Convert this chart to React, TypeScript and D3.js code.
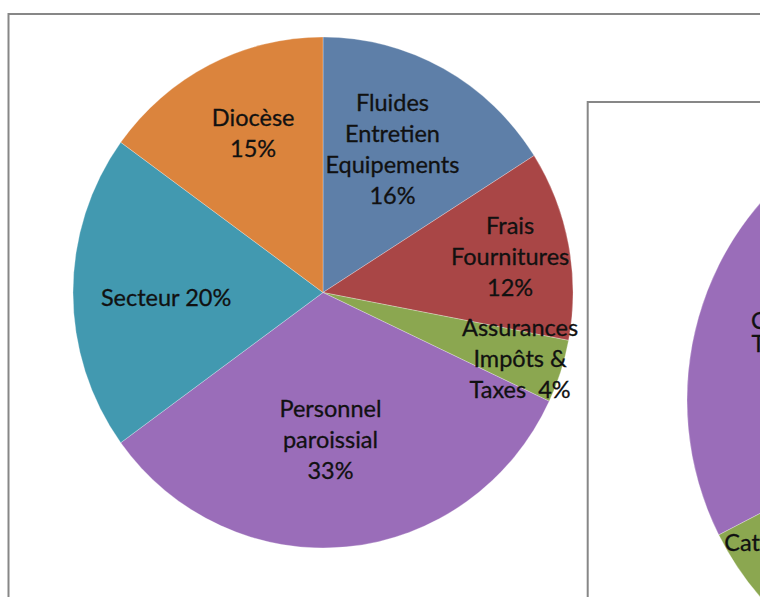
import React from "react";
import * as d3 from "d3";

const W = 760;
const H = 597;

// Main pie (dépenses)
const mainNames: string[][] = [
  ["Fluides", "Entretien", "Equipements"],
  ["Frais", "Fournitures"],
  ["Assurances", "Impôts &", "Taxes "],
  ["Personnel", "paroissial"],
  ["Secteur"],
  ["Diocèse"],
];
const mainValues = [16, 12, 4, 33, 20, 15];

// Second pie (partially visible at the right)
const secondNames: string[][] = [
  ["Denier"],
  ["Quêtes"],
  ["Catéchèse"],
  ["Casuel", "Troncs"],
  ["Divers"],
];
const secondValues = [33.5, 28, 6, 24, 8.5];

// Layout / style
const palette = ["#5e7fa8", "#a94646", "#8ba750", "#9a6db9", "#4299b0", "#db843d"];
const mainPctInline = [false, false, true, false, true, false];
const mainLabelK = [0.627, 0.762, 0.829, 0.574, 0.628, 0.684];
const mainLabelShift = [-2.5, 0, 0, 2.4, -1.6, 2.9]; // degrees
const secondPctInline = [false, false, false, false, false];
const secondLabelK = [0.6, 0.6, 0.87, 0.69, 0.6];
const secondLabelShift = [0, 0, 0, 0, 0];
const secondLineH = [31, 31, 32, 23, 31];

const FONT = "Lato, 'Open Sans', sans-serif";
const FS = 23.5;

type PieSpec = {
  names: string[][];
  values: number[];
  cx: number;
  cy: number;
  rx: number;
  ry: number;
  inline: boolean[];
  k: number[];
  shift: number[];
  lineH: number[];
};

function Pie({ spec }: { spec: PieSpec }) {
  const { names, values, cx, cy, rx, ry } = spec;
  const total = d3.sum(values);
  const pie = d3.pie<number>().sort(null).value((d) => d);
  const arcs = pie(values);
  const arc = d3.arc<d3.PieArcDatum<number>>().innerRadius(0).outerRadius(ry);
  const pct = d3.format(".0%");
  return (
    <g>
      <g transform={`translate(${cx},${cy}) scale(${rx / ry},1)`}>
        {arcs.map((a, i) => (
          <path
            key={i}
            d={arc(a) || ""}
            fill={palette[i % palette.length]}
            stroke="#ffffff"
            strokeOpacity={0.35}
            strokeWidth={0.8}
          />
        ))}
      </g>
      {arcs.map((a, i) => {
        const mid = (a.startAngle + a.endAngle) / 2 + (spec.shift[i] * Math.PI) / 180;
        const k = spec.k[i];
        const x = cx + k * rx * Math.sin(mid);
        const y = cy - k * ry * Math.cos(mid);
        if (x - 80 > W || x + 80 < 0) return null;
        const p = pct(values[i] / total);
        const lines = names[i].slice();
        if (spec.inline[i]) lines[lines.length - 1] = lines[lines.length - 1] + " " + p;
        else lines.push(p);
        const lh = spec.lineH[i];
        const y0 = y - ((lines.length - 1) * lh) / 2;
        return (
          <text
            key={i}
            x={x}
            y={y0}
            textAnchor="middle"
            fontFamily={FONT}
            fontSize={FS}
            fill="#111"
            stroke="#111"
            strokeWidth={0.3}
            style={{ whiteSpace: "pre" }}
          >
            {lines.map((l, j) => (
              <tspan key={j} x={x} y={y0 + j * lh} dominantBaseline="central">
                {l}
              </tspan>
            ))}
          </text>
        );
      })}
    </g>
  );
}

export default function App() {
  const main: PieSpec = {
    names: mainNames,
    values: mainValues,
    cx: 323,
    cy: 292.5,
    rx: 250,
    ry: 255.5,
    inline: mainPctInline,
    k: mainLabelK,
    shift: mainLabelShift,
    lineH: mainValues.map(() => 31),
  };
  const second: PieSpec = {
    names: secondNames,
    values: secondValues,
    cx: 978,
    cy: 400,
    rx: 291,
    ry: 297,
    inline: secondPctInline,
    k: secondLabelK,
    shift: secondLabelShift,
    lineH: secondLineH,
  };
  return (
    <svg
      width={W}
      height={H}
      style={{ position: "absolute", left: 0, top: 0, display: "block", background: "#fff" }}
    >
      <rect x={0} y={0} width={W} height={H} fill="#fff" />
      <rect x={8.5} y={14} width={W + 20} height={H + 20} fill="#fff" stroke="#878787" strokeWidth={2} />
      <Pie spec={main} />
      <rect x={587.7} y={102} width={W} height={H} fill="#fff" stroke="#878787" strokeWidth={2} />
      <Pie spec={second} />
    </svg>
  );
}
